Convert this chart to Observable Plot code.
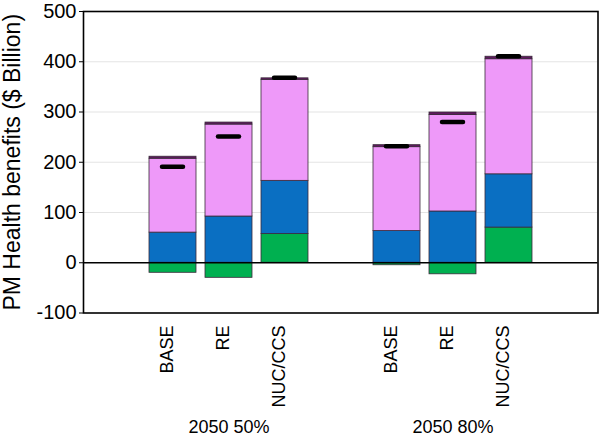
<!DOCTYPE html>
<html>
<head>
<meta charset="utf-8">
<script src="https://cdn.jsdelivr.net/npm/d3@7"></script>
<script src="https://cdn.jsdelivr.net/npm/@observablehq/plot@0.6"></script>
<style>
  html, body { margin: 0; padding: 0; background: #fff; overflow: hidden; }
  #chart { width: 600px; height: 438px; }
</style>
</head>
<body>
<div id="chart"></div>
<script>
// ---- Data ($ Billion) ----
const groups = ["2050 50%", "2050 80%"];
const scenarios = ["BASE", "RE", "NUC/CCS"];
// stacked components, per group, per scenario
const greenVals  = [[-20, -30, 57], [-5, -23, 70]];
const blueVals   = [[60, 92, 106], [63, 102, 106]];
const violetVals = [[147, 183, 201], [167, 192, 229]];
const darkVals   = [[4, 4, 3], [4, 5, 5]];
// net total markers
const netVals    = [[191, 251, 368], [232, 280, 411]];
const yTicks = [-100, 0, 100, 200, 300, 400, 500];
const gridValues = [100, 200, 300, 400];
const yLabel = "PM Health benefits ($ Billion)";

// ---- Build tables ----
const key = (g, s) => g + "|" + s;
const xDomain = [];
groups.forEach((g, gi) => {
  scenarios.forEach(s => xDomain.push(key(g, s)));
  if (gi < groups.length - 1) xDomain.push("gap" + gi);
});

const seriesDefs = [
  {name: "green", vals: greenVals, color: "#00b050"},
  {name: "blue", vals: blueVals, color: "#0a6fc2"},
  {name: "violet", vals: violetVals, color: "#ee99f9"},
  {name: "dark", vals: darkVals, color: "#5e1a5e"}
];
const rows = [];
groups.forEach((g, gi) => {
  scenarios.forEach((s, si) => {
    seriesDefs.forEach(d => rows.push({x: key(g, s), series: d.name, value: d.vals[gi][si]}));
  });
});
const netRows = [];
const labelRows = [];
groups.forEach((g, gi) => {
  scenarios.forEach((s, si) => {
    netRows.push({x: key(g, s), value: netVals[gi][si]});
    labelRows.push({x: key(g, s), text: s});
  });
});
const groupRows = groups.map(g => ({x: key(g, scenarios[1]), text: g}));

const plot = Plot.plot({
  width: 600,
  height: 438,
  marginLeft: 83,
  marginRight: 2.5,
  marginTop: 11,
  marginBottom: 125.5,
  style: {fontFamily: "'Liberation Sans', Arial, sans-serif", fontSize: "18px", background: "#fff", color: "#000"},
  x: {domain: xDomain, paddingInner: 0.158, paddingOuter: 1.1, axis: null},
  y: {domain: [-100, 500]},
  color: {domain: seriesDefs.map(d => d.name), range: seriesDefs.map(d => d.color)},
  marks: [
    Plot.ruleY(gridValues, {stroke: "#e4e4e4", strokeWidth: 1.2}),
    Plot.barY(rows, Plot.stackY({x: "x", y: "value", fill: "series", stroke: "#3a2a3a", strokeWidth: 0.8})),
    Plot.ruleY([0], {stroke: "#000", strokeWidth: 1.3}),
    Plot.tickY(netRows, {x: "x", y: "value", stroke: "#000", strokeWidth: 4.5, strokeLinecap: "round", insetLeft: 13, insetRight: 13}),
    Plot.frame({stroke: "#000", strokeWidth: 1.6}),
    Plot.axisY({ticks: yTicks, tickSize: 4, tickPadding: 3, fontSize: 20, label: null, tickFormat: d => String(d)}),
    Plot.text(labelRows, {x: "x", text: "text", frameAnchor: "bottom", rotate: -90, textAnchor: "end", dy: 12.5, fontSize: 18}),
    Plot.text(groupRows, {x: "x", text: "text", frameAnchor: "bottom", dy: 119.5, fontSize: 18}),
    Plot.text([yLabel], {frameAnchor: "left", textAnchor: "middle", rotate: -90, dx: -71, fontSize: 23})
  ]
});
document.getElementById("chart").appendChild(plot);
</script>
</body>
</html>
